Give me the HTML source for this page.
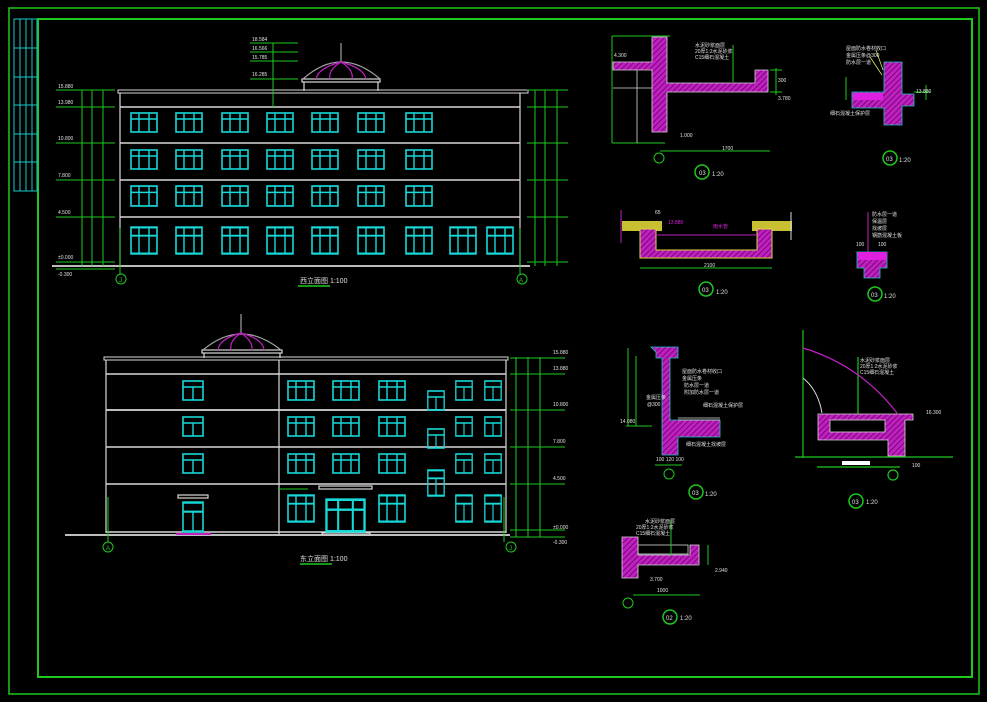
<!DOCTYPE html>
<html><head><meta charset="utf-8"><style>
html,body{margin:0;padding:0;background:#000;width:987px;height:702px;overflow:hidden}
svg{display:block}
text{font-family:"Liberation Sans","Noto Sans CJK SC",sans-serif}
</style></head><body>
<svg width="987" height="702" viewBox="0 0 987 702" xmlns="http://www.w3.org/2000/svg">
<defs>
<symbol id="w" viewBox="0 0 28 21" preserveAspectRatio="none">
<rect x="1" y="1" width="26" height="19" fill="none" stroke="#18d8d8" stroke-width="1.6"/>
<line x1="9" y1="1" x2="9" y2="20" stroke="#18d8d8" stroke-width="1.4"/>
<line x1="19" y1="1" x2="19" y2="20" stroke="#18d8d8" stroke-width="1.4"/>
<line x1="1" y1="7" x2="27" y2="7" stroke="#18d8d8" stroke-width="1.4"/>
</symbol>
<symbol id="w2" viewBox="0 0 22 21" preserveAspectRatio="none">
<rect x="1" y="1" width="20" height="19" fill="none" stroke="#18d8d8" stroke-width="1.6"/>
<line x1="11" y1="7" x2="11" y2="20" stroke="#18d8d8" stroke-width="1.4"/>
<line x1="1" y1="7" x2="21" y2="7" stroke="#18d8d8" stroke-width="1.4"/>
</symbol>
<pattern id="h" width="4" height="4" patternUnits="userSpaceOnUse" patternTransform="rotate(45)">
<rect width="4" height="4" fill="#c020c0"/><line x1="0" y1="0" x2="0" y2="4" stroke="#600060" stroke-width="1.5"/>
</pattern>
</defs>
<!-- frames -->
<rect x="9" y="8" width="970" height="686" fill="none" stroke="#1ec81e" stroke-width="1.5"/>
<rect x="38" y="19" width="934" height="658" fill="none" stroke="#1ec81e" stroke-width="2"/>
<g stroke="#18c8c8" stroke-width="1" fill="none">
<rect x="14" y="19" width="23" height="172"/>
<line x1="20" y1="19" x2="20" y2="191"/><line x1="26" y1="19" x2="26" y2="191"/><line x1="32" y1="19" x2="32" y2="191"/>
<line x1="14" y1="48" x2="37" y2="48"/><line x1="14" y1="77" x2="37" y2="77"/><line x1="14" y1="105" x2="37" y2="105"/><line x1="14" y1="134" x2="37" y2="134"/><line x1="14" y1="162" x2="37" y2="162"/>
</g>

<!-- TOP ELEVATION -->
<g stroke="#d8d8d8" fill="none" stroke-width="1.2">
<rect x="118" y="90" width="410" height="3" stroke-width="1"/>
<line x1="120" y1="93" x2="120" y2="265"/><line x1="520" y1="93" x2="520" y2="265"/>
<line x1="120" y1="107" x2="520" y2="107" stroke-width="1.6"/>
<line x1="120" y1="143" x2="520" y2="143" stroke-width="1.6"/>
<line x1="120" y1="180" x2="520" y2="180" stroke-width="1.6"/>
<line x1="120" y1="217" x2="520" y2="217" stroke-width="1.6"/>
<line x1="52" y1="266" x2="530" y2="266" stroke-width="1.8"/>
<rect x="302" y="79" width="78" height="3"/>
<line x1="304" y1="82" x2="304" y2="91"/><line x1="378" y1="82" x2="378" y2="91"/>
<path d="M303 79 Q341 45 380 79" stroke="#a0a0a0"/>
<line x1="341" y1="43" x2="341" y2="62" stroke="#a0a0a0"/>
</g>
<g stroke="#c020c0" fill="none" stroke-width="1.2">
<path d="M341 62 Q318 68 316 79"/><path d="M341 62 Q328 70 330 79"/><path d="M341 62 Q354 70 352 79"/><path d="M341 62 Q364 68 366 79"/>
</g>
<g>
<use href="#w" x="130" y="112" width="28" height="21"/><use href="#w" x="175" y="112" width="28" height="21"/><use href="#w" x="221" y="112" width="28" height="21"/><use href="#w" x="266" y="112" width="28" height="21"/><use href="#w" x="311" y="112" width="28" height="21"/><use href="#w" x="357" y="112" width="28" height="21"/><use href="#w" x="405" y="112" width="28" height="21"/>
<use href="#w" x="130" y="149" width="28" height="21"/><use href="#w" x="175" y="149" width="28" height="21"/><use href="#w" x="221" y="149" width="28" height="21"/><use href="#w" x="266" y="149" width="28" height="21"/><use href="#w" x="311" y="149" width="28" height="21"/><use href="#w" x="357" y="149" width="28" height="21"/><use href="#w" x="405" y="149" width="28" height="21"/>
<use href="#w" x="130" y="185" width="28" height="22"/><use href="#w" x="175" y="185" width="28" height="22"/><use href="#w" x="221" y="185" width="28" height="22"/><use href="#w" x="266" y="185" width="28" height="22"/><use href="#w" x="311" y="185" width="28" height="22"/><use href="#w" x="357" y="185" width="28" height="22"/><use href="#w" x="405" y="185" width="28" height="22"/>
<use href="#w" x="130" y="226" width="28" height="29"/><use href="#w" x="175" y="226" width="28" height="29"/><use href="#w" x="221" y="226" width="28" height="29"/><use href="#w" x="266" y="226" width="28" height="29"/><use href="#w" x="311" y="226" width="28" height="29"/><use href="#w" x="357" y="226" width="28" height="29"/><use href="#w" x="405" y="226" width="28" height="29"/><use href="#w" x="449" y="226" width="28" height="29"/><use href="#w" x="486" y="226" width="28" height="29"/>
</g>
<g stroke="#1ec81e" stroke-width="1" fill="none">
<line x1="82" y1="90" x2="82" y2="266"/><line x1="92" y1="90" x2="92" y2="266"/><line x1="103" y1="90" x2="103" y2="266"/>
<line x1="56" y1="90" x2="115" y2="90"/><line x1="56" y1="107" x2="115" y2="107"/><line x1="56" y1="143" x2="115" y2="143"/><line x1="56" y1="180" x2="115" y2="180"/><line x1="56" y1="217" x2="115" y2="217"/><line x1="56" y1="262" x2="115" y2="262"/><line x1="56" y1="269" x2="115" y2="269"/>
<line x1="527" y1="90" x2="568" y2="90"/><line x1="527" y1="107" x2="568" y2="107"/><line x1="527" y1="143" x2="568" y2="143"/><line x1="527" y1="180" x2="568" y2="180"/><line x1="527" y1="217" x2="568" y2="217"/><line x1="527" y1="262" x2="568" y2="262"/>
<line x1="535" y1="90" x2="535" y2="266"/><line x1="545" y1="90" x2="545" y2="266"/><line x1="557" y1="90" x2="557" y2="266"/>
<line x1="273" y1="43" x2="273" y2="107"/><line x1="250" y1="43" x2="298" y2="43"/><line x1="250" y1="52" x2="298" y2="52"/><line x1="250" y1="61" x2="298" y2="61"/><line x1="250" y1="79" x2="298" y2="79"/>
<line x1="120" y1="228" x2="120" y2="275"/><line x1="520" y1="228" x2="520" y2="275"/>
<circle cx="121" cy="279" r="5"/><circle cx="522" cy="279" r="5"/>
<line x1="298" y1="286" x2="330" y2="286" stroke-width="1.5"/>
</g>
<g fill="#e0e0e0" font-size="5">
<text x="58" y="88">15.880</text><text x="58" y="104">13.980</text><text x="58" y="140">10.800</text><text x="58" y="177">7.800</text><text x="58" y="214">4.500</text><text x="58" y="259">±0.000</text><text x="58" y="276">-0.300</text>
<text x="252" y="41">18.584</text><text x="252" y="50">16.566</text><text x="252" y="59">15.785</text><text x="252" y="76">16.285</text>
<text x="119" y="282" font-size="6" fill="#1ec81e">J</text><text x="519" y="282" font-size="6" fill="#1ec81e">A</text>
<text x="300" y="283" font-size="7">西立面图 1:100</text>
</g>

<!-- BOTTOM ELEVATION -->
<g stroke="#d8d8d8" fill="none" stroke-width="1.2">
<rect x="104" y="357" width="404" height="3" stroke-width="1"/>
<line x1="106" y1="360" x2="106" y2="533"/><line x1="506" y1="360" x2="506" y2="533"/><line x1="279" y1="360" x2="279" y2="534"/>
<line x1="106" y1="374" x2="506" y2="374" stroke-width="1.6"/>
<line x1="106" y1="410" x2="506" y2="410" stroke-width="1.8"/>
<line x1="106" y1="447" x2="506" y2="447" stroke-width="1.6"/>
<line x1="106" y1="484" x2="506" y2="484" stroke-width="1.6"/>
<line x1="106" y1="532" x2="506" y2="532" stroke-width="1.6"/>
<line x1="65" y1="535" x2="510" y2="535" stroke-width="1.8"/>
<rect x="202" y="350" width="80" height="3"/>
<line x1="204" y1="353" x2="204" y2="358"/><line x1="280" y1="353" x2="280" y2="358"/>
<path d="M203 350 Q241 318 281 350" stroke="#a0a0a0"/>
<line x1="241" y1="314" x2="241" y2="333" stroke="#a0a0a0"/>
<rect x="178" y="495" width="30" height="3"/><rect x="319" y="486" width="53" height="3"/>
<rect x="322" y="533" width="48" height="2"/>
</g>
<g stroke="#c020c0" fill="none" stroke-width="1.2">
<path d="M241 333 Q219 339 218 350"/><path d="M241 333 Q229 341 231 350"/><path d="M241 333 Q253 341 252 350"/><path d="M241 333 Q263 339 264 350"/>
<line x1="176" y1="534" x2="211" y2="534" stroke-width="2"/>
</g>
<g>
<use href="#w2" x="182" y="380" width="22" height="21"/><use href="#w2" x="182" y="416" width="22" height="21"/><use href="#w2" x="182" y="453" width="22" height="21"/>
<use href="#w" x="287" y="380" width="28" height="21"/><use href="#w" x="332" y="380" width="28" height="21"/><use href="#w" x="378" y="380" width="28" height="21"/>
<use href="#w" x="287" y="416" width="28" height="21"/><use href="#w" x="332" y="416" width="28" height="21"/><use href="#w" x="378" y="416" width="28" height="21"/>
<use href="#w" x="287" y="453" width="28" height="21"/><use href="#w" x="332" y="453" width="28" height="21"/><use href="#w" x="378" y="453" width="28" height="21"/>
<use href="#w2" x="455" y="380" width="18" height="21"/><use href="#w2" x="484" y="380" width="18" height="21"/>
<use href="#w2" x="455" y="416" width="18" height="21"/><use href="#w2" x="484" y="416" width="18" height="21"/>
<use href="#w2" x="455" y="453" width="18" height="21"/><use href="#w2" x="484" y="453" width="18" height="21"/>
<use href="#w2" x="427" y="390" width="18" height="21"/><use href="#w2" x="427" y="428" width="18" height="21"/><use href="#w2" x="427" y="469" width="18" height="28"/>
<use href="#w2" x="182" y="501" width="22" height="32"/>
<use href="#w" x="287" y="494" width="28" height="29"/><use href="#w" x="378" y="494" width="28" height="29"/>
<use href="#w" x="325" y="498" width="41" height="35"/>
<use href="#w2" x="455" y="494" width="18" height="29"/><use href="#w2" x="484" y="494" width="18" height="29"/>
</g>
<g stroke="#1ec81e" stroke-width="1" fill="none">
<line x1="516" y1="357" x2="516" y2="537"/><line x1="528" y1="357" x2="528" y2="537"/><line x1="540" y1="357" x2="540" y2="537"/>
<line x1="510" y1="358" x2="565" y2="358"/><line x1="510" y1="374" x2="565" y2="374"/><line x1="510" y1="410" x2="565" y2="410"/><line x1="510" y1="447" x2="565" y2="447"/><line x1="510" y1="484" x2="565" y2="484"/><line x1="510" y1="530" x2="565" y2="530"/><line x1="510" y1="537" x2="565" y2="537"/>
<line x1="108" y1="497" x2="108" y2="542"/><line x1="504" y1="497" x2="504" y2="542"/>
<circle cx="108" cy="547" r="5"/><circle cx="511" cy="547" r="5"/>
<line x1="278" y1="489" x2="308" y2="489"/>
<line x1="300" y1="564" x2="332" y2="564" stroke-width="1.5"/>
</g>
<g fill="#e0e0e0" font-size="5">
<text x="553" y="354">15.880</text><text x="553" y="370">13.880</text><text x="553" y="406">10.800</text><text x="553" y="443">7.800</text><text x="553" y="480">4.500</text><text x="553" y="529">±0.000</text><text x="553" y="544">-0.300</text>
<text x="106" y="550" font-size="6" fill="#1ec81e">A</text><text x="509" y="550" font-size="6" fill="#1ec81e">J</text>
<text x="300" y="561" font-size="7">东立面图 1:100</text>
</g>

<!-- DETAIL 1 -->
<g>
<path d="M652 37 H667 V83 H755 V70 H768 V92 H667 V132 H652 V70 H613 V62 H652 Z" fill="url(#h)" stroke="#d8d8d8" stroke-width="0.8"/>
<g stroke="#1ec81e" fill="none" stroke-width="1">
<line x1="612" y1="36" x2="670" y2="36"/><line x1="612" y1="36" x2="612" y2="143"/><line x1="612" y1="143" x2="665" y2="143"/>
<line x1="660" y1="151" x2="770" y2="151"/><line x1="733" y1="45" x2="733" y2="82"/>
<line x1="770" y1="70" x2="782" y2="70"/><line x1="770" y1="92" x2="782" y2="92"/><line x1="776" y1="68" x2="776" y2="95"/>
<circle cx="659" cy="158" r="5"/><circle cx="702" cy="172" r="7" stroke-width="1.5"/>
</g>
<g stroke="#d8d8d8" fill="none" stroke-width="0.8"><line x1="613" y1="88" x2="652" y2="88"/><line x1="637" y1="70" x2="637" y2="143"/></g>
<g fill="#e0e0e0" font-size="5"><text x="695" y="47">水泥砂浆面层</text><text x="695" y="53">20厚1:2水泥砂浆</text><text x="695" y="59">C15细石混凝土</text><text x="722" y="150">1700</text><text x="778" y="82">300</text><text x="778" y="100">3.780</text><text x="680" y="137">1.000</text><text x="614" y="57">4.300</text>
<text x="699" y="175" font-size="6">03</text><text x="712" y="176" font-size="6">1:20</text></g>
</g>

<!-- DETAIL 4 -->
<g>
<path d="M884 62 H902 V94 H914 V106 H902 V125 H884 V108 H852 V92 H884 Z" fill="url(#h)" stroke="#18c8c8" stroke-width="0.8"/>
<rect x="853" y="93" width="30" height="7" fill="#e020e0"/>
<g stroke="#1ec81e" fill="none" stroke-width="1"><line x1="914" y1="92" x2="930" y2="92"/><line x1="926" y1="85" x2="926" y2="100"/><line x1="846" y1="77" x2="846" y2="100"/><circle cx="890" cy="158" r="7" stroke-width="1.5"/></g>
<g stroke="#e0e060" stroke-width="0.8"><line x1="876" y1="50" x2="883" y2="70"/><line x1="870" y1="57" x2="882" y2="75"/></g>
<g fill="#e0e0e0" font-size="5"><text x="846" y="50">屋面防水卷材收口</text><text x="846" y="57">金属压条@300</text><text x="846" y="64">防水层一道</text><text x="830" y="115">细石混凝土保护层</text><text x="916" y="93">13.880</text>
<text x="886" y="161" font-size="6">03</text><text x="899" y="162" font-size="6">1:20</text></g>
</g>

<!-- DETAIL 2 -->
<g>
<rect x="622" y="221" width="40" height="10" fill="#c8c030"/><rect x="752" y="221" width="40" height="10" fill="#c8c030"/>
<path d="M640 229 H656 V250 H757 V229 H772 V258 H640 Z" fill="url(#h)" stroke="#d8d840" stroke-width="1"/>
<line x1="656" y1="235" x2="757" y2="235" stroke="#c020c0" stroke-width="1"/>
<line x1="621" y1="210" x2="621" y2="243" stroke="#c020c0"/><line x1="791" y1="212" x2="791" y2="240" stroke="#d8d8d8"/>
<g stroke="#1ec81e" fill="none" stroke-width="1"><line x1="640" y1="268" x2="772" y2="268"/><circle cx="706" cy="289" r="7" stroke-width="1.5"/></g>
<g fill="#e0e0e0" font-size="5"><text x="704" y="267">2100</text><text x="655" y="214">65</text><text x="668" y="224" fill="#e020e0">13.880</text><text x="713" y="228" fill="#e020e0">雨水管</text>
<text x="702" y="292" font-size="6">03</text><text x="716" y="294" font-size="6">1:20</text></g>
</g>

<!-- DETAIL 5 -->
<g>
<path d="M857 252 H887 V268 H880 V278 H864 V268 H857 Z" fill="url(#h)" stroke="#18c8c8" stroke-width="0.8"/>
<rect x="858" y="252" width="29" height="8" fill="#e020e0"/>
<line x1="868" y1="212" x2="868" y2="252" stroke="#c020c0"/>
<g stroke="#1ec81e" fill="none"><circle cx="875" cy="294" r="7" stroke-width="1.5"/></g>
<g fill="#e0e0e0" font-size="5"><text x="872" y="216">防水层一道</text><text x="872" y="223">保温层</text><text x="872" y="230">找坡层</text><text x="872" y="237">钢筋混凝土板</text><text x="856" y="246">100</text><text x="878" y="246">100</text>
<text x="871" y="297" font-size="6">03</text><text x="884" y="298" font-size="6">1:20</text></g>
</g>

<!-- DETAIL 3 -->
<g>
<path d="M651 347 H678 V358 H670 V420 H720 V437 H678 V455 H662 V358 H656 V352 Z" fill="url(#h)" stroke="#18c8c8" stroke-width="0.8"/>
<g stroke="#d8d8d8" stroke-width="0.8"><line x1="678" y1="418" x2="720" y2="418"/><line x1="678" y1="420" x2="720" y2="420"/></g>
<g stroke="#1ec81e" fill="none" stroke-width="1"><line x1="628" y1="348" x2="628" y2="426"/><line x1="636" y1="356" x2="636" y2="426"/><line x1="626" y1="426" x2="652" y2="426"/><line x1="655" y1="465" x2="682" y2="465"/><circle cx="669" cy="474" r="5"/><circle cx="696" cy="492" r="7" stroke-width="1.5"/></g>
<g fill="#e0e0e0" font-size="5"><text x="682" y="373">屋面防水卷材收口</text><text x="682" y="380">金属压条</text><text x="684" y="387">防水层一道</text><text x="684" y="394">附加防水层一道</text><text x="703" y="407">细石混凝土保护层</text><text x="686" y="446">细石混凝土找坡层</text><text x="646" y="399">金属压条</text><text x="647" y="406">@300</text><text x="620" y="423">14.080</text><text x="656" y="461">100 120 100</text>
<text x="692" y="495" font-size="6">03</text><text x="705" y="496" font-size="6">1:20</text></g>
</g>

<!-- DETAIL 6 -->
<g>
<g stroke="#1ec81e" fill="none" stroke-width="1.2"><line x1="803" y1="330" x2="803" y2="458"/><line x1="795" y1="457" x2="953" y2="457"/><line x1="817" y1="467" x2="900" y2="467"/><circle cx="893" cy="475" r="5"/><circle cx="856" cy="501" r="7" stroke-width="1.5"/><line x1="858" y1="357" x2="858" y2="433"/></g>
<path d="M803 348 Q860 365 897 413" stroke="#c020c0" fill="none" stroke-width="1.2"/>
<path d="M803 378 Q818 390 822 413" stroke="#d8d8d8" fill="none"/>
<path d="M818 414 H913 V420 H905 V456 H888 V440 H818 Z" fill="url(#h)" stroke="#d8d8d8" stroke-width="0.8"/>
<rect x="830" y="420" width="55" height="12" fill="#000" stroke="#d8d8d8" stroke-width="0.8"/>
<rect x="842" y="461" width="28" height="4" fill="#fff"/>
<g fill="#e0e0e0" font-size="5"><text x="860" y="362">水泥砂浆面层</text><text x="860" y="368">20厚1:2水泥砂浆</text><text x="860" y="374">C15细石混凝土</text><text x="926" y="414">16.300</text><text x="912" y="467">100</text>
<text x="852" y="504" font-size="6">03</text><text x="866" y="504" font-size="6">1:20</text></g>
</g>

<!-- DETAIL 7 -->
<g>
<path d="M622 537 H638 V555 H690 V545 H699 V565 H638 V578 H622 Z" fill="url(#h)" stroke="#d8d8d8" stroke-width="0.8"/>
<rect x="638" y="545" width="50" height="9" fill="none" stroke="#d8d8d8" stroke-width="0.8"/>
<g stroke="#1ec81e" fill="none" stroke-width="1"><line x1="671" y1="520" x2="671" y2="556"/><line x1="633" y1="595" x2="700" y2="595"/><line x1="708" y1="545" x2="708" y2="565"/><circle cx="628" cy="603" r="5"/><circle cx="670" cy="617" r="7" stroke-width="1.5"/></g>
<g fill="#e0e0e0" font-size="5"><text x="645" y="523">水泥砂浆面层</text><text x="636" y="529">20厚1:2水泥砂浆</text><text x="636" y="535">C15细石混凝土</text><text x="657" y="592">1000</text><text x="650" y="581">3.700</text><text x="715" y="572">2.940</text>
<text x="666" y="620" font-size="6">02</text><text x="680" y="620" font-size="6">1:20</text></g>
</g>
</svg>
</body></html>
